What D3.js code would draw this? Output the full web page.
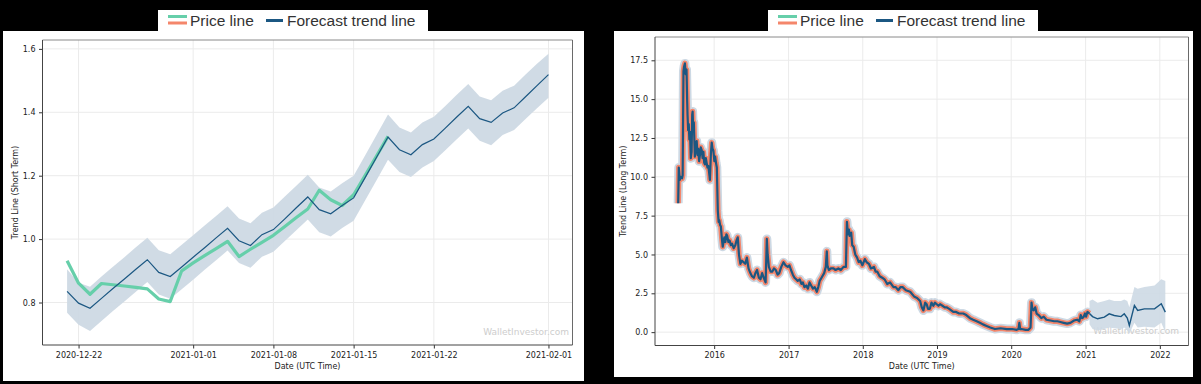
<!DOCTYPE html>
<html>
<head>
<meta charset="utf-8">
<script src="https://cdn.jsdelivr.net/npm/d3@7"></script>
<style>
  html, body { margin: 0; padding: 0; background: #000; }
  svg { display: block; }
  .tick text { font-family: "DejaVu Sans", sans-serif; font-size: 8px; fill: #222; }
  .tick line { stroke: #333; }
  .axis-lbl { font-family: "DejaVu Sans", sans-serif; font-size: 8px; fill: #222; }
  .legend-lbl { font-family: "Liberation Sans", Arial, sans-serif; font-size: 15.5px; fill: #333; }
  .watermark { font-family: "DejaVu Sans", sans-serif; font-size: 9px; fill: #cdcdcd; }
</style>
</head>
<body>
<svg id="chart" width="1201" height="384"></svg>
<script>
// ── Short term (left panel) ─────────────────────────────────────────────────
const shortDates = [
  "2020-12-21","2020-12-22","2020-12-23","2020-12-24","2020-12-25","2020-12-26","2020-12-27",
  "2020-12-28","2020-12-29","2020-12-30","2020-12-31","2021-01-01","2021-01-02","2021-01-03",
  "2021-01-04","2021-01-05","2021-01-06","2021-01-07","2021-01-08","2021-01-09","2021-01-10",
  "2021-01-11","2021-01-12","2021-01-13","2021-01-14","2021-01-15","2021-01-16","2021-01-17",
  "2021-01-18","2021-01-19","2021-01-20","2021-01-21","2021-01-22","2021-01-23","2021-01-24",
  "2021-01-25","2021-01-26","2021-01-27","2021-01-28","2021-01-29","2021-01-30","2021-01-31",
  "2021-02-01"
];
const shortForecast = [
  0.835, 0.798, 0.782, 0.813, 0.844, 0.874, 0.905, 0.935, 0.895, 0.882, 0.912, 0.943, 0.973, 1.004,
  1.034, 0.995, 0.980, 1.014, 1.030, 1.064, 1.099, 1.133, 1.093, 1.080, 1.106, 1.130, 1.194, 1.258,
  1.322, 1.282, 1.266, 1.298, 1.316, 1.350, 1.385, 1.419, 1.380, 1.368, 1.398, 1.414, 1.449, 1.484,
  1.519
];
const shortUpper = [
  0.905, 0.862, 0.850, 0.882, 0.913, 0.943, 0.974, 1.004, 0.965, 0.952, 0.982, 1.012, 1.043, 1.073,
  1.104, 1.065, 1.050, 1.083, 1.100, 1.134, 1.168, 1.203, 1.163, 1.150, 1.176, 1.200, 1.264, 1.328,
  1.393, 1.352, 1.336, 1.368, 1.386, 1.420, 1.455, 1.489, 1.450, 1.438, 1.468, 1.484, 1.519, 1.553,
  1.585
];
const shortLower = [
  0.768, 0.730, 0.710, 0.742, 0.773, 0.803, 0.834, 0.865, 0.825, 0.812, 0.842, 0.872, 0.903, 0.933,
  0.964, 0.925, 0.910, 0.944, 0.960, 0.994, 1.028, 1.062, 1.022, 1.008, 1.035, 1.058, 1.122, 1.186,
  1.250, 1.212, 1.196, 1.226, 1.246, 1.280, 1.315, 1.349, 1.310, 1.296, 1.328, 1.344, 1.379, 1.413,
  1.446
];
// price only exists up to 2021-01-18
const shortPrice = [
  0.932, 0.861, 0.826, 0.860, 0.856, 0.852, 0.848, 0.843, 0.811, 0.803, 0.900, 0.925, 0.948, 0.970,
  0.993, 0.945, 0.968, 0.990, 1.012, 1.040, 1.068, 1.095, 1.154, 1.124, 1.106, 1.140, 1.200, 1.262,
  1.324
];
const shortXTicks = ["2020-12-22","2021-01-01","2021-01-08","2021-01-15","2021-01-22","2021-02-01"];
const shortYTicks = [0.8, 1.0, 1.2, 1.4, 1.6];

// ── Long term (right panel): [date, price] ──────────────────────────────────
const longPrice = [
  ["2015-07-08",8.3],["2015-07-11",10.6],["2015-07-16",9.8],["2015-07-20",10.0],["2015-07-27",9.9],
  ["2015-07-30",10.1],["2015-08-03",16.8],["2015-08-06",17.1],["2015-08-10",17.3],["2015-08-14",16.6],
  ["2015-08-18",16.9],["2015-08-21",15.0],["2015-08-23",14.0],["2015-08-26",13.0],["2015-08-29",13.4],
  ["2015-09-01",12.4],["2015-09-04",12.9],["2015-09-08",11.2],["2015-09-12",11.6],["2015-09-15",14.0],
  ["2015-09-17",14.2],["2015-09-20",13.0],["2015-09-23",13.5],["2015-09-28",11.3],["2015-10-03",12.0],
  ["2015-10-07",12.3],["2015-10-11",11.4],["2015-10-15",11.8],["2015-10-19",11.0],["2015-10-23",11.4],
  ["2015-10-27",11.9],["2015-11-01",11.7],["2015-11-05",11.2],["2015-11-09",11.6],["2015-11-13",10.9],
  ["2015-11-17",10.8],["2015-11-21",11.2],["2015-11-25",10.9],["2015-11-29",10.6],["2015-12-03",10.7],
  ["2015-12-07",10.3],["2015-12-11",9.8],["2015-12-16",11.5],["2015-12-20",12.2],["2015-12-24",11.8],
  ["2015-12-28",11.7],["2016-01-02",11.0],["2016-01-06",11.3],["2016-01-10",10.9],["2016-01-14",10.6],
  ["2016-01-19",7.8],["2016-01-23",7.1],["2016-01-26",7.2],["2016-01-30",6.9],["2016-02-03",6.8],
  ["2016-02-08",6.0],["2016-02-12",5.5],["2016-02-16",5.8],["2016-02-20",6.1],["2016-02-25",5.8],
  ["2016-03-01",6.3],["2016-03-05",6.2],["2016-03-11",5.8],["2016-03-17",5.9],["2016-03-23",5.6],
  ["2016-03-29",5.7],["2016-04-06",5.4],["2016-04-14",5.6],["2016-04-20",5.9],["2016-04-26",6.1],
  ["2016-05-02",5.0],["2016-05-09",4.4],["2016-05-16",4.6],["2016-05-25",4.5],["2016-06-02",4.4],
  ["2016-06-10",4.8],["2016-06-18",4.1],["2016-06-27",3.8],["2016-07-05",3.6],["2016-07-14",3.5],
  ["2016-07-22",3.8],["2016-07-30",4.0],["2016-08-08",3.5],["2016-08-16",3.4],["2016-08-24",3.8],
  ["2016-09-01",3.5],["2016-09-10",3.2],["2016-09-16",6.0],["2016-09-20",5.0],["2016-09-26",4.2],
  ["2016-10-05",3.9],["2016-10-13",3.9],["2016-10-21",4.1],["2016-10-30",4.0],["2016-11-08",3.7],
  ["2016-11-16",3.8],["2016-11-26",4.2],["2016-12-07",4.5],["2016-12-17",4.3],["2016-12-28",4.2],
  ["2017-01-05",4.3],["2017-01-13",4.0],["2017-01-22",3.7],["2017-01-30",3.5],["2017-02-07",3.4],
  ["2017-02-15",3.3],["2017-02-25",3.4],["2017-03-05",3.1],["2017-03-12",3.2],["2017-03-20",2.9],
  ["2017-03-29",3.0],["2017-04-06",2.8],["2017-04-14",3.2],["2017-04-22",3.0],["2017-05-01",2.8],
  ["2017-05-10",2.9],["2017-05-20",2.6],["2017-05-27",2.9],["2017-06-03",3.3],["2017-06-12",3.5],
  ["2017-06-25",3.8],["2017-07-03",4.2],["2017-07-08",5.2],["2017-07-11",4.3],["2017-07-18",4.0],
  ["2017-07-28",4.1],["2017-08-10",4.1],["2017-08-20",4.0],["2017-09-03",4.1],["2017-09-15",4.0],
  ["2017-09-28",4.2],["2017-10-10",4.2],["2017-10-15",7.1],["2017-10-20",6.3],["2017-10-25",6.6],
  ["2017-10-28",6.2],["2017-11-05",6.4],["2017-11-10",5.6],["2017-11-17",5.5],["2017-11-25",5.0],
  ["2017-12-04",4.8],["2017-12-12",4.5],["2017-12-20",4.6],["2017-12-30",4.3],["2018-01-11",4.7],
  ["2018-01-20",4.5],["2018-01-31",4.4],["2018-02-10",4.1],["2018-02-25",4.2],["2018-03-05",3.9],
  ["2018-03-13",3.9],["2018-03-25",3.6],["2018-04-07",3.5],["2018-04-18",3.4],["2018-05-01",3.1],
  ["2018-05-15",3.2],["2018-06-01",2.9],["2018-06-12",2.9],["2018-06-25",2.7],["2018-07-05",2.9],
  ["2018-07-16",2.9],["2018-08-01",2.7],["2018-08-22",2.6],["2018-09-10",2.3],["2018-09-25",2.2],
  ["2018-10-10",2.0],["2018-10-18",1.6],["2018-10-26",1.4],["2018-11-04",1.9],["2018-11-11",1.8],
  ["2018-11-18",1.5],["2018-11-27",1.5],["2018-12-05",1.9],["2018-12-14",1.7],["2018-12-22",1.9],
  ["2018-12-30",1.8],["2019-01-08",1.7],["2019-01-16",1.8],["2019-01-28",1.7],["2019-02-08",1.6],
  ["2019-02-17",1.6],["2019-03-02",1.5],["2019-03-12",1.4],["2019-03-22",1.3],["2019-04-05",1.3],
  ["2019-04-20",1.2],["2019-05-10",1.2],["2019-05-25",1.1],["2019-06-12",0.9],["2019-06-28",0.8],
  ["2019-07-15",0.7],["2019-07-31",0.6],["2019-08-15",0.5],["2019-09-02",0.4],["2019-09-20",0.3],
  ["2019-10-13",0.2],["2019-11-10",0.25],["2019-12-10",0.2],["2020-01-05",0.2],["2020-01-28",0.15],
  ["2020-02-06",0.2],["2020-02-10",0.6],["2020-02-14",0.2],["2020-02-20",0.2],["2020-03-12",0.15],
  ["2020-03-26",0.15],["2020-04-05",0.3],["2020-04-10",1.9],["2020-04-14",1.5],["2020-04-20",1.4],
  ["2020-04-28",1.6],["2020-05-05",1.2],["2020-05-15",1.1],["2020-05-28",0.9],["2020-06-09",1.0],
  ["2020-06-22",0.8],["2020-07-12",0.75],["2020-07-30",0.7],["2020-08-15",0.7],["2020-08-30",0.65],
  ["2020-09-15",0.6],["2020-10-02",0.55],["2020-10-18",0.6],["2020-11-05",0.75],["2020-11-20",0.8],
  ["2020-12-01",0.7],["2020-12-08",1.1],["2020-12-14",0.9],["2020-12-21",0.95],["2020-12-29",1.2],
  ["2021-01-03",1.0],["2021-01-10",1.3],["2021-01-20",1.2]
];
const futDates = [
  "2021-01-20","2021-02-04","2021-03-01","2021-04-03","2021-04-27","2021-05-22","2021-06-24","2021-07-10",
  "2021-07-25","2021-08-04","2021-08-29","2021-09-14","2021-10-17","2021-12-06","2022-01-08","2022-01-28"
];
const futForecast = [1.2, 1.0, 0.86, 0.97, 1.18, 1.07, 1.0, 1.18, 0.9, 0.43, 1.72, 1.4, 1.5, 1.5, 1.83, 1.29];
const futUpper    = [2.0, 2.1, 1.9, 2.0, 2.1, 2.0, 2.0, 2.1, 2.0, 1.6, 2.9, 2.8, 2.9, 3.0, 3.4, 3.3];
const futLower    = [0.5, 0.2, 0.1, 0.2, 0.3, 0.25, 0.2, 0.3, 0.1, -0.1, 0.6, 0.3, 0.35, 0.3, 0.6, 0.0];
const longXTicks = ["2016-01-01","2017-01-01","2018-01-01","2019-01-01","2020-01-01","2021-01-01","2022-01-01"];
const longYTicks = [0, 2.5, 5, 7.5, 10, 12.5, 15, 17.5];

const COLORS = { green: "#66cfaa", salmon: "#f4866b", blue: "#1b5782", band: "#cdd9e4", grid: "#ebebeb" };
const parse = d3.utcParse("%Y-%m-%d");
const svg = d3.select("#chart");

// card + legend + axes box, returns plot group and scales
function panel(cfg) {
  const { card, legend, box } = cfg;
  svg.append("rect").attr("x", card.x).attr("y", card.y).attr("width", card.w).attr("height", card.h).attr("fill", "#fff");

  const x = d3.scaleUtc().domain(cfg.xDomain.map(d => d3.isoParse(d))).range([box.x0, box.x1]);
  const y = d3.scaleLinear().domain(cfg.yDomain).range([box.y1, box.y0]);
  const g = svg.append("g");

  // Grid
  g.append("g").selectAll("line")
    .data(cfg.xTicks)
    .join("line")
    .attr("x1", d => x(parse(d))).attr("x2", d => x(parse(d)))
    .attr("y1", box.y0).attr("y2", box.y1)
    .attr("stroke", COLORS.grid).attr("stroke-width", 1);
  g.append("g").selectAll("line")
    .data(cfg.yTicks)
    .join("line")
    .attr("x1", box.x0).attr("x2", box.x1)
    .attr("y1", d => y(d)).attr("y2", d => y(d))
    .attr("stroke", COLORS.grid).attr("stroke-width", 1);

  // Watermark
  g.append("text").attr("class", "watermark")
    .attr("x", cfg.mark.x).attr("y", cfg.mark.y).attr("text-anchor", "end")
    .text("WalletInvestor.com");

  // Axes
  const ax = g.append("g").attr("transform", `translate(0,${box.y1})`)
    .call(d3.axisBottom(x).tickValues(cfg.xTicks.map(parse)).tickFormat(d3.utcFormat(cfg.xFmt))
      .tickSize(3.5).tickPadding(3.5));
  ax.select(".domain").remove();
  const ay = g.append("g").attr("transform", `translate(${box.x0},0)`)
    .call(d3.axisLeft(y).tickValues(cfg.yTicks).tickFormat(d3.format(".1f")).tickSize(3.5).tickPadding(3.5));
  ay.select(".domain").remove();

  // Spines
  g.append("line").attr("x1", box.x0).attr("x2", box.x1).attr("y1", box.y0).attr("y2", box.y0).attr("stroke", "#8a8a8a");
  g.append("line").attr("x1", box.x1).attr("x2", box.x1).attr("y1", box.y0).attr("y2", box.y1).attr("stroke", "#6a6a6a");
  g.append("line").attr("x1", box.x0).attr("x2", box.x1).attr("y1", box.y1).attr("y2", box.y1).attr("stroke", "#444");
  g.append("line").attr("x1", box.x0).attr("x2", box.x0).attr("y1", box.y0).attr("y2", box.y1).attr("stroke", "#444");

  // Axis labels
  svg.append("text").attr("class", "axis-lbl")
    .attr("x", (box.x0 + box.x1) / 2).attr("y", cfg.xLblY).attr("text-anchor", "middle")
    .text("Date (UTC Time)");
  svg.append("text").attr("class", "axis-lbl")
    .attr("transform", `translate(${cfg.yLblX},${(box.y0 + box.y1) / 2}) rotate(-90)`)
    .attr("text-anchor", "middle").attr("dy", "0.35em")
    .text(cfg.yLabel);

  // Legend
  const lg = svg.append("g").attr("transform", `translate(${legend.x},${legend.y})`);
  lg.append("rect").attr("width", 270).attr("height", 21).attr("fill", "#fff");
  lg.append("line").attr("x1", 10).attr("x2", 29).attr("y1", 6.5).attr("y2", 6.5).attr("stroke", COLORS.green).attr("stroke-width", 3);
  lg.append("line").attr("x1", 10).attr("x2", 29).attr("y1", 13).attr("y2", 13).attr("stroke", COLORS.salmon).attr("stroke-width", 3);
  lg.append("text").attr("class", "legend-lbl").attr("x", 32).attr("y", 16).text("Price line");
  lg.append("line").attr("x1", 108).attr("x2", 125).attr("y1", 10.5).attr("y2", 10.5).attr("stroke", COLORS.blue).attr("stroke-width", 3);
  lg.append("text").attr("class", "legend-lbl").attr("x", 129).attr("y", 16).text("Forecast trend line");

  const plot = svg.append("g");
  return { x, y, plot };
}

// ── Left: short term ────────────────────────────────────────────────────────
(function () {
  const { x, y, plot } = panel({
    card: { x: 3, y: 31, w: 581, h: 350 },
    legend: { x: 158, y: 10 },
    box: { x0: 42.5, x1: 572.5, y0: 40, y1: 345 },
    xDomain: ["2020-12-18T20:30:00Z", "2021-02-03T02:20:00Z"],
    yDomain: [0.666, 1.628],
    xTicks: shortXTicks, xFmt: "%Y-%m-%d",
    yTicks: shortYTicks,
    yLabel: "Trend Line (Short Term)", yLblX: 15, xLblY: 369,
    mark: { x: 569, y: 335 }
  });
  const rows = shortDates.map((d, i) => ({ t: parse(d), f: shortForecast[i], lo: shortLower[i], hi: shortUpper[i] }));

  plot.append("path").datum(rows)
    .attr("fill", COLORS.band).attr("opacity", 0.95)
    .attr("d", d3.area().x(d => x(d.t)).y0(d => y(d.lo)).y1(d => y(d.hi)));
  plot.append("path").datum(shortPrice.map((v, i) => ({ t: parse(shortDates[i]), v })))
    .attr("fill", "none").attr("stroke", COLORS.green).attr("stroke-width", 3.2).attr("stroke-linejoin", "round")
    .attr("d", d3.line().x(d => x(d.t)).y(d => y(d.v)));
  plot.append("path").datum(rows)
    .attr("fill", "none").attr("stroke", COLORS.blue).attr("stroke-width", 1.2)
    .attr("d", d3.line().x(d => x(d.t)).y(d => y(d.f)));
})();

// ── Right: long term ────────────────────────────────────────────────────────
(function () {
  const { x, y, plot } = panel({
    card: { x: 614, y: 31, w: 579, h: 346 },
    legend: { x: 768, y: 10 },
    box: { x0: 655, x1: 1188.5, y0: 37, y1: 345.5 },
    xDomain: ["2015-03-16T00:00:00Z", "2022-05-22T00:00:00Z"],
    yDomain: [-0.86, 19.0],
    xTicks: longXTicks, xFmt: "%Y",
    yTicks: longYTicks,
    yLabel: "Trend Line (Long Term)", yLblX: 623.5, xLblY: 369,
    mark: { x: 1179, y: 334 }
  });
  const hist = longPrice.map(([d, v]) => ({ t: parse(d), v }));
  const fut = futDates.map((d, i) => ({ t: parse(d), f: futForecast[i], lo: futLower[i], hi: futUpper[i] }));
  const line = d3.line().x(d => x(d.t)).y(d => y(d.v));

  // narrow historical uncertainty halo
  plot.append("path").datum(hist)
    .attr("fill", "none").attr("stroke", COLORS.band).attr("stroke-width", 9).attr("stroke-linejoin", "round")
    .attr("d", line);
  plot.append("path").datum(fut)
    .attr("fill", COLORS.band).attr("opacity", 0.9)
    .attr("d", d3.area().x(d => x(d.t)).y0(d => y(d.lo)).y1(d => y(d.hi)));
  plot.append("path").datum(hist)
    .attr("fill", "none").attr("stroke", COLORS.salmon).attr("stroke-width", 5.5).attr("stroke-linejoin", "round")
    .attr("d", line);
  plot.append("path").datum(hist)
    .attr("fill", "none").attr("stroke", COLORS.blue).attr("stroke-width", 2.2).attr("stroke-linejoin", "round")
    .attr("d", line);
  plot.append("path").datum(fut)
    .attr("fill", "none").attr("stroke", COLORS.blue).attr("stroke-width", 1.4)
    .attr("d", d3.line().x(d => x(d.t)).y(d => y(d.f)));
})();
</script>
</body>
</html>
